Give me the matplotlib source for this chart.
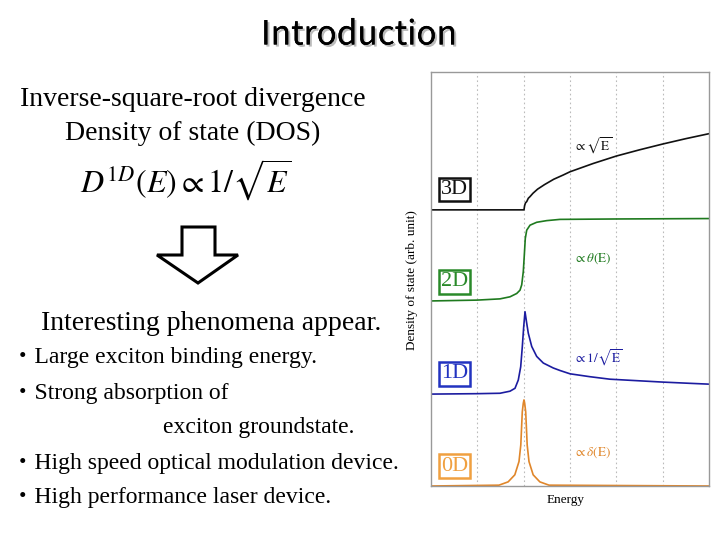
import matplotlib
matplotlib.use("Agg")
import matplotlib.pyplot as plt
from matplotlib.patches import Polygon
import matplotlib.patheffects as pe

plt.rcParams['mathtext.fontset'] = 'stix'

# ---- data ----
energy_3d = [0.0, 2.007, 2.02, 2.04, 2.066, 2.1, 2.137, 2.2, 2.3, 2.45, 2.65, 2.85, 3.0,
             3.25, 3.5, 3.75, 4.0, 4.5, 5.0, 5.5, 6.0]
dos_3d = [0.667, 0.667, 0.677, 0.684, 0.687, 0.695, 0.699, 0.707, 0.717, 0.728, 0.741, 0.751, 0.759,
          0.769, 0.779, 0.788, 0.797, 0.812, 0.826, 0.839, 0.851]

energy_2d = [0.0, 0.993, 1.489, 1.705, 1.850, 1.921, 1.958, 1.992, 2.014, 2.035, 2.066, 2.137,
             2.281, 2.497, 2.784, 4.015, 6.0]
dos_2d = [0.447, 0.449, 0.452, 0.457, 0.465, 0.473, 0.486, 0.518, 0.558, 0.598, 0.618, 0.630,
          0.637, 0.641, 0.644, 0.645, 0.646]

energy_1d = [0.0, 0.993, 1.489, 1.705, 1.813, 1.884, 1.936, 1.971, 2.001, 2.029, 2.066, 2.100,
             2.174, 2.281, 2.424, 2.640, 2.784, 3.0, 3.43, 3.86, 4.51, 5.0, 5.59, 6.0]
dos_1d = [0.222, 0.223, 0.224, 0.229, 0.236, 0.256, 0.288, 0.337, 0.385, 0.421, 0.393, 0.369,
          0.337, 0.313, 0.297, 0.285, 0.279, 0.271, 0.264, 0.258, 0.254, 0.251, 0.248, 0.246]

energy_0d = [0.0, 1.467, 1.665, 1.809, 1.899, 1.938, 1.970, 1.992, 2.007, 2.022, 2.044, 2.076,
             2.115, 2.205, 2.349, 2.547, 6.0]
dos_0d = [0.0, 0.002, 0.010, 0.027, 0.059, 0.099, 0.179, 0.200, 0.208, 0.200, 0.179, 0.099,
          0.059, 0.027, 0.010, 0.002, 0.0]

dim_labels = ["3D", "2D", "1D", "0D"]
law_labels = [r"$\propto\sqrt{\mathrm{E}}$", r"$\propto\theta(\mathrm{E})$",
              r"$\propto 1/\sqrt{\mathrm{E}}$", r"$\propto\delta(\mathrm{E})$"]
grid_energies = [1, 2, 3, 4, 5]

bullets = ["・Large exciton binding energy.",
           "・Strong absorption of",
           "・High speed optical modulation device.",
           "・High performance laser device."]

# ---- style ----
colors = ["#111111", "#1f7a1f", "#1c1ca0", "#e0862a"]
box_colors = ["#111111", "#2a8a2a", "#2233c0", "#f0a040"]
serif = ["Liberation Serif", "DejaVu Serif"]
serif_cjk = ["Liberation Serif", "Noto Sans CJK JP"]

fig = plt.figure(figsize=(7.2, 5.4), dpi=100)
fig.patch.set_facecolor("white")

# Title
fig.text(359/720, 1 - 35/540, "Introduction", ha="center", va="center",
         fontsize=24, family=["Noto Sans CJK JP"], color="black",
         path_effects=[pe.withSimplePatchShadow(offset=(1.5, -1.5), shadow_rgbFace="#aaaaaa", alpha=0.8),
                       pe.Normal()])

# left texts
fig.text(193/720, 1 - 100/540, "Inverse-square-root divergence", ha="center", va="center",
         fontsize=20, family=serif)
fig.text(193/720, 1 - 133/540, "Density of state (DOS)", ha="center", va="center",
         fontsize=20, family=serif)
fig.text(186/720, 1 - 180/540, r"$D^{1D}(E)\propto 1/\sqrt{E}$", ha="center", va="center",
         fontsize=23)

# hollow arrow
arrow_pts = [(182, 227), (215, 227), (215, 255), (238, 255), (198, 283), (157, 255), (182, 255)]
arrow = Polygon([(x/720, 1 - y/540) for x, y in arrow_pts], closed=True,
                transform=fig.transFigure, facecolor="white", edgecolor="black", lw=2.2)
fig.patches.append(arrow)

fig.text(211/720, 1 - 323/540, "Interesting phenomena appear.", ha="center", va="center",
         fontsize=20, family=serif)
bullet_y = [358, 393, 463, 497]
for txt, yy in zip(bullets, bullet_y):
    fig.text(11/720, 1 - yy/540, txt, ha="left", va="center", fontsize=17, family=serif_cjk)
fig.text(163/720, 1 - 428/540, "exciton groundstate.", ha="left", va="center",
         fontsize=17, family=serif)

# ---- chart ----
ax = fig.add_axes([431/720, 1 - 486/540, 278/720, 414/540])
ax.plot(energy_3d, dos_3d, color=colors[0], lw=1.2)
ax.plot(energy_2d, dos_2d, color=colors[1], lw=1.2)
ax.plot(energy_1d, dos_1d, color=colors[2], lw=1.2)
ax.plot(energy_0d, dos_0d, color=colors[3], lw=1.2)
for g in grid_energies:
    ax.axvline(g, color="#bbbbbb", lw=0.8, ls=(0, (1.5, 2.5)), zorder=0)
ax.set_xlim(0, 6)
ax.set_ylim(0, 1)
ax.set_xticks([])
ax.set_yticks([])
for s in ax.spines.values():
    s.set_color("#999999")
    s.set_linewidth(1.0)

box_y = [0.716, 0.493, 0.271, 0.048]
law_y = [0.821, 0.548, 0.309, 0.080]
for lab, ly, lawl, wy, c, bc in zip(dim_labels, box_y, law_labels, law_y, colors, box_colors):
    ax.text(0.085, ly, lab, transform=ax.transAxes, ha="center", va="center",
            fontsize=16, family=serif, color=bc,
            bbox=dict(boxstyle="square,pad=0.1", facecolor="white", edgecolor=bc, lw=1.8))
    ax.text(0.515, wy, lawl, transform=ax.transAxes, ha="left", va="center",
            fontsize=9.5, color=c)

fig.text(412/720, 1 - 280/540, "Density of state (arb. unit)", rotation=90,
         ha="center", va="center", fontsize=9.5, family=serif)
fig.text(566/720, 1 - 500/540, "Energy", ha="center", va="center", fontsize=9.5, family=serif)

fig.savefig("out.png", dpi=100)
